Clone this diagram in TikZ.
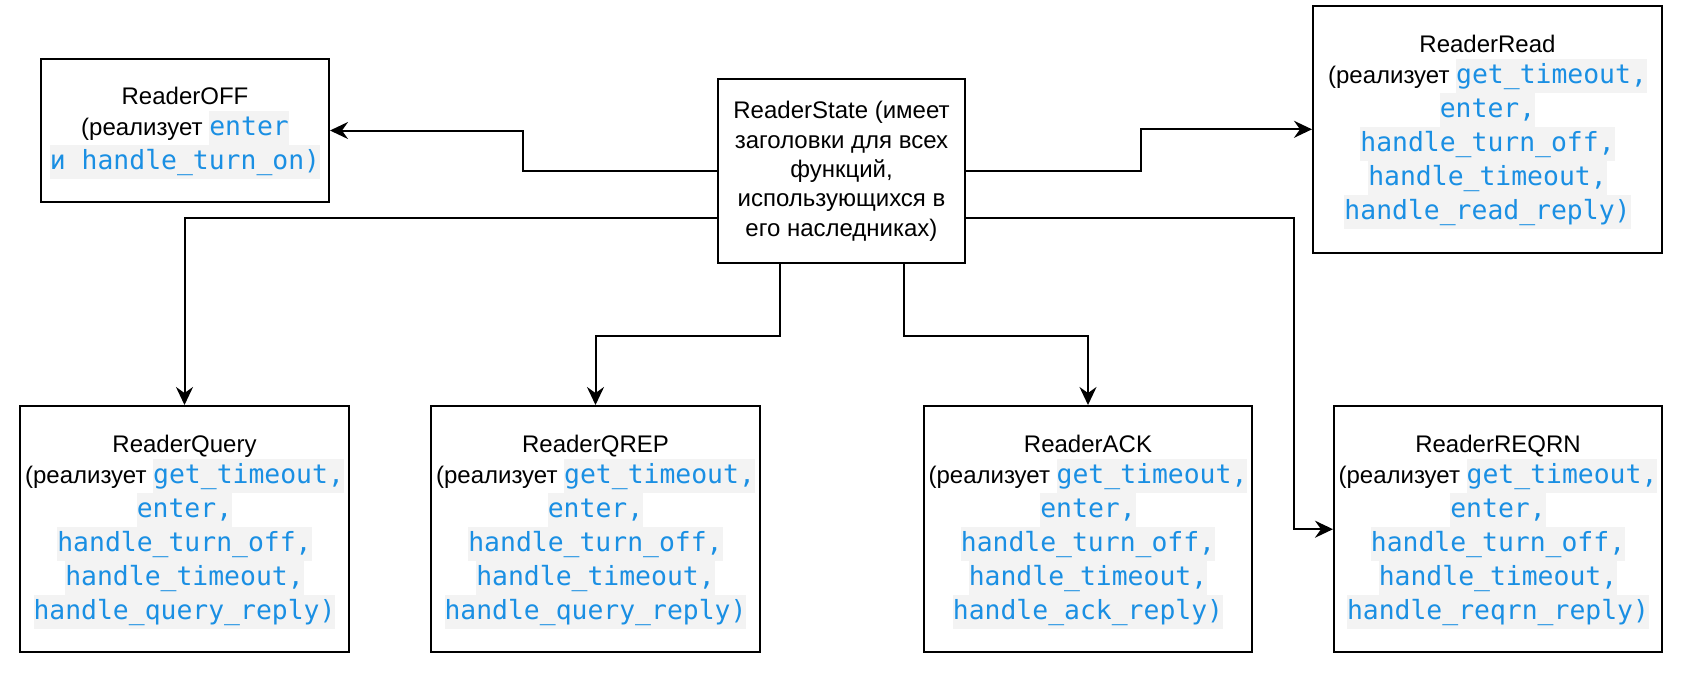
\documentclass[tikz,border=0pt]{standalone}
\usepackage{fontspec}
\usepackage{xcolor}
\usetikzlibrary{arrows.meta}
\setmainfont{Liberation Sans}
\newfontfamily\codefont{DejaVu Sans Mono}

\definecolor{codeblue}{HTML}{1A8FE3}
\definecolor{codebg}{HTML}{F3F3F3}

\setlength{\lineskip}{0pt}
\setlength{\lineskiplimit}{0pt}

\newcommand\code[1]{{\setlength{\fboxsep}{0pt}\colorbox{codebg}{\rule[-4.6pt]{0pt}{17pt}\codefont\fontsize{13.2pt}{0pt}\selectfont\color{codeblue}#1}}}
\newcommand\hstrut{\rule[-3.3pt]{0pt}{14.5pt}}

\tikzset{
  impl/.style={draw, line width=1pt, inner sep=0pt, align=center,
    font=\fontsize{12pt}{0pt}\selectfont},
  base/.style={draw, line width=1pt, inner sep=0pt, align=center,
    font=\fontsize{12pt}{14.7pt}\selectfont},
  arr/.style={line width=1pt, -{Stealth[length=9pt,width=8.5pt,inset=3pt]}}
}

\begin{document}
\begin{tikzpicture}[x=0.5pt,y=-0.5pt]

            \useasboundingbox (0,0) rectangle (1682,693);

            \node[base, minimum width=123.5pt, minimum height=92pt] (state) at (841.5,171.3)
                {ReaderState (имеет\\заголовки для всех\\функций,\\использующихся в\\его наследниках)};

            \node[impl, minimum width=144pt, minimum height=71.4pt] (off) at (185,130.5)
                {\hstrut ReaderOFF\\(реализует \code{enter}\\\code{и handle\_turn\_on)}};
            \node[impl, minimum width=174.5pt, minimum height=123.7pt] (read) at (1487.5,129.3)
                {\hstrut ReaderRead\\(реализует \code{get\_timeout,}\\\code{enter,}\\\code{handle\_turn\_off,}\\\code{handle\_timeout,}\\\code{handle\_read\_reply)}};

            \node[impl, minimum width=164.5pt, minimum height=123.2pt] (query) at (184.5,529.2)
                {\hstrut ReaderQuery\\(реализует \code{get\_timeout,}\\\code{enter,}\\\code{handle\_turn\_off,}\\\code{handle\_timeout,}\\\code{handle\_query\_reply)}};
            \node[impl, minimum width=164.5pt, minimum height=123.2pt] (qrep) at (595.5,529.2)
                {\hstrut ReaderQREP\\(реализует \code{get\_timeout,}\\\code{enter,}\\\code{handle\_turn\_off,}\\\code{handle\_timeout,}\\\code{handle\_query\_reply)}};
            \node[impl, minimum width=164pt, minimum height=123.2pt] (ack) at (1088,529.2)
                {\hstrut ReaderACK\\(реализует \code{get\_timeout,}\\\code{enter,}\\\code{handle\_turn\_off,}\\\code{handle\_timeout,}\\\code{handle\_ack\_reply)}};
            \node[impl, minimum width=164pt, minimum height=123.2pt] (reqrn) at (1498,529.2)
                {\hstrut ReaderREQRN\\(реализует \code{get\_timeout,}\\\code{enter,}\\\code{handle\_turn\_off,}\\\code{handle\_timeout,}\\\code{handle\_reqrn\_reply)}};

             %connectors
            \draw[arr] (state.west) -- ++(-194,0) |- (off.east);
            \draw[arr] (state.east) -- ++(175,0) |- (read.west);
            \draw[arr] ([yshift=-23.1pt]state.west) -| (query.north);
            \draw[arr] ([yshift=-23.1pt]state.east) -- ++(328,0) |- (reqrn.west);
            \draw[arr] ([xshift=-31pt]state.south) -- ++(0,72) -| (qrep.north);
            \draw[arr] ([xshift=31pt]state.south) -- ++(0,72) -| (ack.north);

\end{tikzpicture}
\end{document}
